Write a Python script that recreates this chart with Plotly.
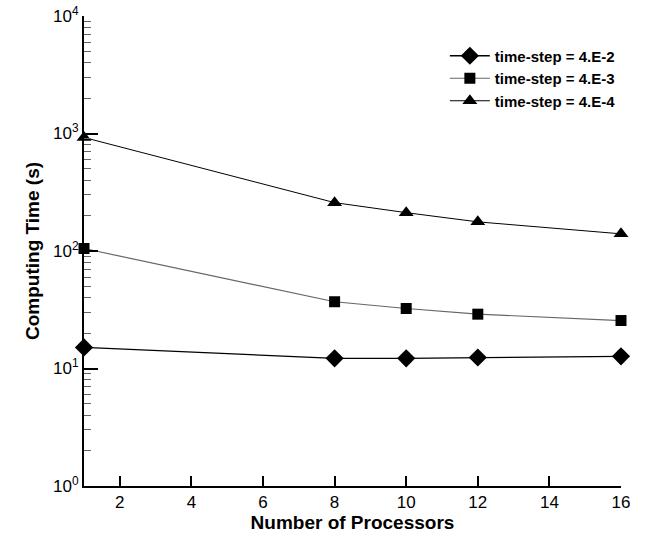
import plotly.graph_objects as go

processors = [1, 8, 10, 12, 16]
time_dt_4e2 = [15.1, 12.2, 12.2, 12.4, 12.7]
time_dt_4e3 = [105, 37.0, 32.4, 29.0, 25.6]
time_dt_4e4 = [925, 258, 212, 177, 140]

series_names = ["time-step = 4.E-2", "time-step = 4.E-3", "time-step = 4.E-4"]
x_ticks = [2, 4, 6, 8, 10, 12, 14, 16]
y_tickvals = [1, 10, 100, 1000, 10000]
y_ticktext = ["10<sup>0</sup>", "10<sup>1</sup>", "10<sup>2</sup>", "10<sup>3</sup>", "10<sup>4</sup>"]

fig = go.Figure()
fig.add_trace(go.Scatter(
    x=processors, y=time_dt_4e2, name=series_names[0], mode="lines+markers",
    line=dict(color="black", width=1.3),
    marker=dict(symbol="diamond", size=14, color="black"), cliponaxis=False))
fig.add_trace(go.Scatter(
    x=processors, y=time_dt_4e3, name=series_names[1], mode="lines+markers",
    line=dict(color="#666666", width=1.2),
    marker=dict(symbol="square", size=11, color="black"), cliponaxis=False))
fig.add_trace(go.Scatter(
    x=processors, y=time_dt_4e4, name=series_names[2], mode="lines+markers",
    line=dict(color="black", width=1),
    marker=dict(symbol="triangle-up", size=13, color="black"), cliponaxis=False))

font_family = "Liberation Sans, Arial, sans-serif"

fig.update_layout(
    width=652, height=543,
    margin=dict(l=84, r=31, t=16, b=57),
    paper_bgcolor="white", plot_bgcolor="white",
    font=dict(family=font_family, color="black", size=17),
    showlegend=True,
    legend=dict(
        x=0.672, y=0.95, xanchor="left", yanchor="top",
        bgcolor="rgba(0,0,0,0)", borderwidth=0,
        font=dict(family=font_family, size=15, color="black", weight="bold"),
        itemwidth=40, tracegroupgap=0,
    ),
    xaxis=dict(
        range=[1, 16], tickvals=x_ticks, ticks="inside", ticklen=10, tickwidth=2,
        tickcolor="black", showline=True, linecolor="black", linewidth=2,
        showgrid=False, zeroline=False, mirror=False, automargin=False,
        ticklabeloverflow="allow",
        tickfont=dict(size=17),
        title=dict(text="<b>Number of Processors</b>", font=dict(size=19), standoff=3),
    ),
    yaxis=dict(
        type="log", range=[0, 4], tickvals=y_tickvals, ticktext=y_ticktext,
        ticks="inside", ticklen=14, tickwidth=2, tickcolor="black",
        showline=True, linecolor="black", linewidth=2,
        showgrid=False, zeroline=False, mirror=False, automargin=False,
        ticklabeloverflow="allow",
        tickfont=dict(size=17),
        minor=dict(ticks="inside", ticklen=7, tickwidth=1, tickcolor="#666666",
                   dtick="D1", showgrid=False),
        title=dict(text="<b>Computing Time (s)</b>", font=dict(size=19), standoff=8),
    ),
)

fig.write_html("out.html", config={"displayModeBar": False},
               post_script="document.body.style.margin='0';")
